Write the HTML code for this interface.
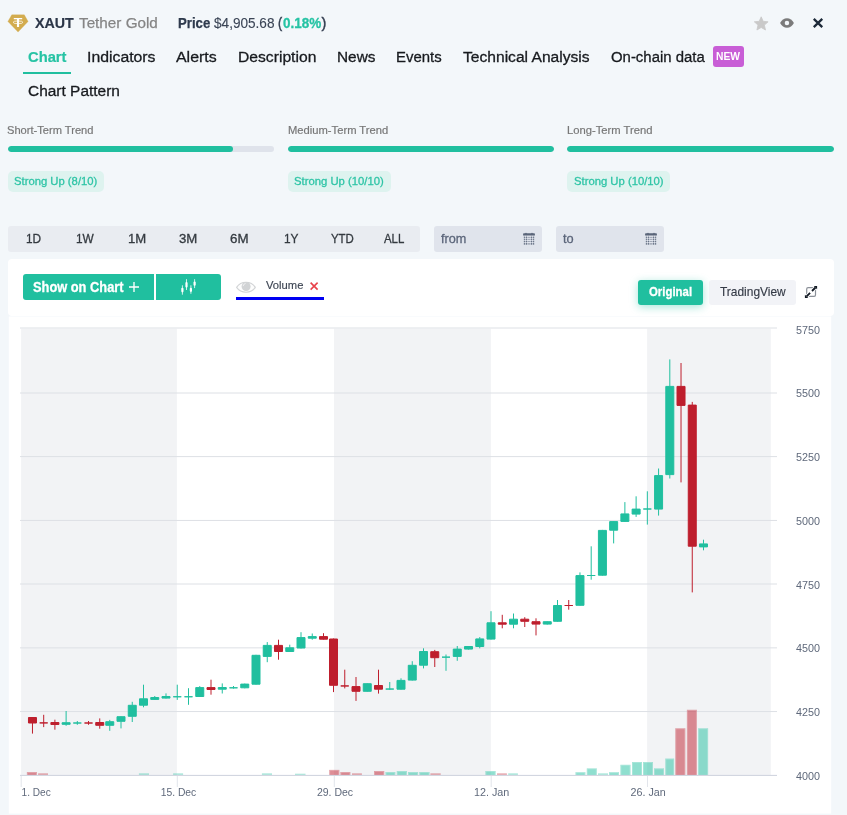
<!DOCTYPE html>
<html lang="en"><head><meta charset="utf-8"><title>XAUT Tether Gold</title>
<style>
*{box-sizing:border-box;margin:0;padding:0}
html,body{width:847px;height:815px;overflow:hidden}
body{position:relative;background:#f3f7fa;font-family:"Liberation Sans",sans-serif;color:#23272b}
.abs,.tx{position:absolute}
.tx{white-space:nowrap;transform-origin:0 0;display:block}
.card{position:absolute;background:#fff}
.bar{position:absolute;height:6px;border-radius:3px;background:#dfe3eb;overflow:hidden}
.bar i{display:block;height:6px;border-radius:3px;background:#20bf9f}
.badge{position:absolute;height:21px;border-radius:5px;background:#def3ef}
.rng{position:absolute;left:8px;top:226px;width:412px;height:26px;border-radius:3px;background:#e9ecf1}
.inp{position:absolute;top:226px;width:108px;height:26px;border-radius:3px;background:#e0e4ec}
.btn{position:absolute;background:#20bf9f}
.chart{position:absolute;left:0;top:0}
.al{font-family:"Liberation Sans",sans-serif;font-size:11px;fill:#5f697b}
svg{display:block;overflow:visible}
</style></head>
<body>
<!-- header -->
<header>
<svg class="abs" style="left:7px;top:14px" width="22" height="19" viewBox="7 14 22 19"><path d="M11.8 14.8H24.3L28.1 21.4L18.05 32.1L7.9 21.4Z" fill="#d3ac4f" stroke="#d3ac4f" stroke-width="0.3" stroke-linejoin="round"/><path d="M13.8 17.9H22.2V19.3H19.1V27H16.95V19.3H13.8Z" fill="#fff"/><ellipse cx="18" cy="22.3" rx="4.9" ry="1.35" fill="none" stroke="#fff" stroke-width="0.75"/></svg>
<span class="tx" style="left:35.12px;top:15px;font-size:15.5px;line-height:15.5px;font-weight:bold;color:#2b3648;transform:scaleX(0.9199);-webkit-text-stroke:0.2px #2b3648;">XAUT</span><span class="tx" style="left:78.78px;top:15px;font-size:15.5px;line-height:15.5px;font-weight:normal;color:#858585;transform:scaleX(0.9841);-webkit-text-stroke:0.25px #858585;">Tether Gold</span><span class="tx" style="left:178.24px;top:16px;font-size:14.5px;line-height:14.5px;font-weight:bold;color:#2e3a4d;transform:scaleX(0.9083);-webkit-text-stroke:0.25px #2e3a4d;">Price</span><span class="tx" style="left:214.35px;top:16px;font-size:14.5px;line-height:14.5px;font-weight:normal;color:#3b4556;transform:scaleX(0.9378);-webkit-text-stroke:0.12px #3b4556;">$4,905.68</span><span class="tx" style="left:277.9px;top:16px;font-size:14.5px;line-height:14.5px;font-weight:normal;color:#333e50;transform:scaleX(0.8567);-webkit-text-stroke:0.4px #333e50;">(</span><span class="tx" style="left:282.6px;top:16px;font-size:14.5px;line-height:14.5px;font-weight:bold;color:#26c3a4;transform:scaleX(0.9288);-webkit-text-stroke:0.3px #26c3a4;">0.18%</span><span class="tx" style="left:321.6px;top:16px;font-size:14.5px;line-height:14.5px;font-weight:normal;color:#333e50;transform:scaleX(1.0000);-webkit-text-stroke:0.4px #333e50;">)</span>
<svg class="abs" style="left:753px;top:16px" width="16" height="15" viewBox="0 0 16 15"><path d="M8.2 0.8L10.2 5.3L15.1 5.8L11.4 9.1L12.5 14L8.2 11.5L3.9 14L5 9.1L1.3 5.8L6.2 5.3Z" fill="#c9c9c9" stroke="#c9c9c9" stroke-width="0.8" stroke-linejoin="round"/></svg>
<svg class="abs" style="left:779px;top:17px" width="16" height="12" viewBox="0 0 16 12"><path d="M1.1 6.1C2.6 3 5.2 1.2 8 1.2S13.4 3 14.9 6.1C13.4 9.1 10.8 10.8 8 10.8S2.6 9.1 1.1 6.1Z" fill="#7b7b7b"/><circle cx="7.95" cy="6" r="2.25" fill="#f3f7fa"/></svg>
<svg class="abs" style="left:812px;top:17px" width="12" height="12" viewBox="0 0 12 12"><path d="M1.8 1.85L10.25 10.1M10.25 1.85L1.8 10.1" stroke="#1c2938" stroke-width="2.3" fill="none"/></svg>
</header>
<!-- tabs -->
<nav>
<span class="tx" style="left:27.75px;top:49px;font-size:15.5px;line-height:15.5px;font-weight:bold;color:#26c3a4;transform:scaleX(0.9517);-webkit-text-stroke:0.2px #26c3a4;">Chart</span><div class="abs" style="left:23px;top:72px;width:47.5px;height:2px;background:#20bf9f"></div>
<span class="tx" style="left:87.14px;top:49px;font-size:15.5px;line-height:15.5px;font-weight:normal;color:#171a1e;transform:scaleX(1.0195);-webkit-text-stroke:0.3px #171a1e;">Indicators</span><span class="tx" style="left:176.05px;top:49px;font-size:15.5px;line-height:15.5px;font-weight:normal;color:#171a1e;transform:scaleX(1.0275);-webkit-text-stroke:0.3px #171a1e;">Alerts</span><span class="tx" style="left:237.71px;top:49px;font-size:15.5px;line-height:15.5px;font-weight:normal;color:#171a1e;transform:scaleX(1.0105);-webkit-text-stroke:0.3px #171a1e;">Description</span><span class="tx" style="left:337.03px;top:49px;font-size:15.5px;line-height:15.5px;font-weight:normal;color:#171a1e;transform:scaleX(0.9920);-webkit-text-stroke:0.3px #171a1e;">News</span><span class="tx" style="left:396.1px;top:49px;font-size:15.5px;line-height:15.5px;font-weight:normal;color:#171a1e;transform:scaleX(0.9632);-webkit-text-stroke:0.3px #171a1e;">Events</span><span class="tx" style="left:463.31px;top:49px;font-size:15.5px;line-height:15.5px;font-weight:normal;color:#171a1e;transform:scaleX(1.0068);-webkit-text-stroke:0.3px #171a1e;">Technical Analysis</span><span class="tx" style="left:610.74px;top:49px;font-size:15.5px;line-height:15.5px;font-weight:normal;color:#171a1e;transform:scaleX(0.9627);-webkit-text-stroke:0.3px #171a1e;">On-chain data</span>
<div class="abs" style="left:713px;top:46px;width:31px;height:21px;border-radius:3px;background:#c85ed6"></div><span class="tx" style="left:715.95px;top:51px;font-size:11.4px;line-height:11.4px;font-weight:bold;color:#ffffff;transform:scaleX(0.9035);">NEW</span>
<span class="tx" style="left:27.96px;top:83px;font-size:15.5px;line-height:15.5px;font-weight:normal;color:#171a1e;transform:scaleX(0.9969);-webkit-text-stroke:0.3px #171a1e;">Chart Pattern</span>
</nav>
<!-- trends -->
<section>
<span class="tx" style="left:6.99px;top:125px;font-size:11.5px;line-height:11.5px;font-weight:normal;color:#777777;transform:scaleX(0.9664);-webkit-text-stroke:0.2px #777777;">Short-Term Trend</span><span class="tx" style="left:288.1px;top:125px;font-size:11.5px;line-height:11.5px;font-weight:normal;color:#777777;transform:scaleX(0.9740);-webkit-text-stroke:0.2px #777777;">Medium-Term Trend</span><span class="tx" style="left:567.23px;top:125px;font-size:11.5px;line-height:11.5px;font-weight:normal;color:#777777;transform:scaleX(0.9755);-webkit-text-stroke:0.2px #777777;">Long-Term Trend</span>
<div class="bar" style="left:8px;top:146px;width:266px"><i style="width:225px"></i></div>
<div class="bar" style="left:288px;top:146px;width:266px"><i style="width:266px"></i></div>
<div class="bar" style="left:567px;top:146px;width:267px"><i style="width:267px"></i></div>
<div class="badge" style="left:8px;top:171px;width:96px"></div><span class="tx" style="left:14.26px;top:176px;font-size:11.5px;line-height:11.5px;font-weight:normal;color:#2ec4a6;transform:scaleX(0.9799);-webkit-text-stroke:0.3px #2ec4a6;">Strong Up (8/10)</span>
<div class="badge" style="left:288px;top:171px;width:103px"></div><span class="tx" style="left:294.4px;top:176px;font-size:11.5px;line-height:11.5px;font-weight:normal;color:#2ec4a6;transform:scaleX(0.9814);-webkit-text-stroke:0.3px #2ec4a6;">Strong Up (10/10)</span>
<div class="badge" style="left:567px;top:171px;width:103px"></div><span class="tx" style="left:573.68px;top:176px;font-size:11.5px;line-height:11.5px;font-weight:normal;color:#2ec4a6;transform:scaleX(0.9804);-webkit-text-stroke:0.3px #2ec4a6;">Strong Up (10/10)</span>
</section>
<!-- range -->
<section>
<div class="rng"></div>
<span class="tx" style="left:25.61px;top:233px;font-size:12.3px;line-height:12.3px;font-weight:normal;color:#343a40;transform:scaleX(0.9625);-webkit-text-stroke:0.3px #343a40;">1D</span><span class="tx" style="left:76.24px;top:233px;font-size:12.3px;line-height:12.3px;font-weight:normal;color:#343a40;transform:scaleX(0.9651);-webkit-text-stroke:0.3px #343a40;">1W</span><span class="tx" style="left:128.04px;top:233px;font-size:12.3px;line-height:12.3px;font-weight:normal;color:#343a40;transform:scaleX(1.0676);-webkit-text-stroke:0.3px #343a40;">1M</span><span class="tx" style="left:178.76px;top:233px;font-size:12.3px;line-height:12.3px;font-weight:normal;color:#343a40;transform:scaleX(1.0745);-webkit-text-stroke:0.3px #343a40;">3M</span><span class="tx" style="left:230.49px;top:233px;font-size:12.3px;line-height:12.3px;font-weight:normal;color:#343a40;transform:scaleX(1.0862);-webkit-text-stroke:0.3px #343a40;">6M</span><span class="tx" style="left:283.82px;top:233px;font-size:12.3px;line-height:12.3px;font-weight:normal;color:#343a40;transform:scaleX(0.9663);-webkit-text-stroke:0.3px #343a40;">1Y</span><span class="tx" style="left:331.08px;top:233px;font-size:12.3px;line-height:12.3px;font-weight:normal;color:#343a40;transform:scaleX(0.9285);-webkit-text-stroke:0.3px #343a40;">YTD</span><span class="tx" style="left:383.91px;top:233px;font-size:12.3px;line-height:12.3px;font-weight:normal;color:#343a40;transform:scaleX(0.9266);-webkit-text-stroke:0.3px #343a40;">ALL</span>
<div class="inp" style="left:434px"></div><span class="tx" style="left:441.28px;top:232px;font-size:13.3px;line-height:13.3px;font-weight:normal;color:#5b657a;transform:scaleX(0.9518);-webkit-text-stroke:0.3px #5b657a;">from</span><svg class="abs" style="left:523px;top:232px" width="12" height="13" viewBox="0 -1 12 13"><path d="M0.1 2.5V1.1Q0.1 0.3 0.9 0.3H2.2Q2.4 -0.3 3 -0.3T3.8 0.3H8.2Q8.4 -0.3 9 -0.3T9.8 0.3H11.1Q11.9 0.3 11.9 1.1V2.5Z" fill="#5a6579"/><g fill="#5a6579" fill-opacity="0.3"><rect x="0.8" y="3.9" width="10.4" height="1"/><rect x="0.8" y="5.9" width="10.4" height="1"/><rect x="0.8" y="8" width="10.4" height="1"/><rect x="0.8" y="10.1" width="10.4" height="1.5"/><rect x="0.9" y="2.5" width="1" height="9"/><rect x="3" y="2.5" width="1" height="9"/><rect x="8" y="2.5" width="1" height="9"/><rect x="10.1" y="2.5" width="1" height="9"/></g><g fill="#5a6579" fill-opacity="0.75"><rect x="0.9" y="3.90" width="1" height="1"/><rect x="0.9" y="5.90" width="1" height="1"/><rect x="0.9" y="8.00" width="1" height="1"/><rect x="0.9" y="10.10" width="1" height="1.5"/><rect x="3.0" y="3.90" width="1" height="1"/><rect x="3.0" y="5.90" width="1" height="1"/><rect x="3.0" y="8.00" width="1" height="1"/><rect x="3.0" y="10.10" width="1" height="1.5"/><rect x="8.0" y="3.90" width="1" height="1"/><rect x="8.0" y="5.90" width="1" height="1"/><rect x="8.0" y="8.00" width="1" height="1"/><rect x="8.0" y="10.10" width="1" height="1.5"/><rect x="10.1" y="3.90" width="1" height="1"/><rect x="10.1" y="5.90" width="1" height="1"/><rect x="10.1" y="8.00" width="1" height="1"/><rect x="10.1" y="10.10" width="1" height="1.5"/><rect x="5.5" y="3.90" width="1" height="1" fill-opacity="0.45"/><rect x="5.5" y="5.90" width="1" height="1" fill-opacity="0.45"/><rect x="5.5" y="8.00" width="1" height="1" fill-opacity="0.45"/><rect x="5.5" y="10.10" width="1" height="1.5" fill-opacity="0.45"/></g></svg>
<div class="inp" style="left:556px"></div><span class="tx" style="left:563.44px;top:232px;font-size:13.3px;line-height:13.3px;font-weight:normal;color:#5b657a;transform:scaleX(0.9600);-webkit-text-stroke:0.3px #5b657a;">to</span><svg class="abs" style="left:645px;top:232px" width="12" height="13" viewBox="0 -1 12 13"><path d="M0.1 2.5V1.1Q0.1 0.3 0.9 0.3H2.2Q2.4 -0.3 3 -0.3T3.8 0.3H8.2Q8.4 -0.3 9 -0.3T9.8 0.3H11.1Q11.9 0.3 11.9 1.1V2.5Z" fill="#5a6579"/><g fill="#5a6579" fill-opacity="0.3"><rect x="0.8" y="3.9" width="10.4" height="1"/><rect x="0.8" y="5.9" width="10.4" height="1"/><rect x="0.8" y="8" width="10.4" height="1"/><rect x="0.8" y="10.1" width="10.4" height="1.5"/><rect x="0.9" y="2.5" width="1" height="9"/><rect x="3" y="2.5" width="1" height="9"/><rect x="8" y="2.5" width="1" height="9"/><rect x="10.1" y="2.5" width="1" height="9"/></g><g fill="#5a6579" fill-opacity="0.75"><rect x="0.9" y="3.90" width="1" height="1"/><rect x="0.9" y="5.90" width="1" height="1"/><rect x="0.9" y="8.00" width="1" height="1"/><rect x="0.9" y="10.10" width="1" height="1.5"/><rect x="3.0" y="3.90" width="1" height="1"/><rect x="3.0" y="5.90" width="1" height="1"/><rect x="3.0" y="8.00" width="1" height="1"/><rect x="3.0" y="10.10" width="1" height="1.5"/><rect x="8.0" y="3.90" width="1" height="1"/><rect x="8.0" y="5.90" width="1" height="1"/><rect x="8.0" y="8.00" width="1" height="1"/><rect x="8.0" y="10.10" width="1" height="1.5"/><rect x="10.1" y="3.90" width="1" height="1"/><rect x="10.1" y="5.90" width="1" height="1"/><rect x="10.1" y="8.00" width="1" height="1"/><rect x="10.1" y="10.10" width="1" height="1.5"/><rect x="5.5" y="3.90" width="1" height="1" fill-opacity="0.45"/><rect x="5.5" y="5.90" width="1" height="1" fill-opacity="0.45"/><rect x="5.5" y="8.00" width="1" height="1" fill-opacity="0.45"/><rect x="5.5" y="10.10" width="1" height="1.5" fill-opacity="0.45"/></g></svg>
</section>
<!-- toolbar -->
<section>
<div class="card" style="left:8px;top:259px;width:826px;height:57px;border-radius:4px"></div>
<div class="btn" style="left:23px;top:274px;width:131px;height:26px;border-radius:3px 0 0 3px"></div>
<span class="tx" style="left:32.79px;top:280px;font-size:14.5px;line-height:14.5px;font-weight:bold;color:#ffffff;transform:scaleX(0.8850);-webkit-text-stroke:0.3px #ffffff;">Show on Chart</span>
<svg class="abs" style="left:128px;top:281px" width="12" height="12" viewBox="0 0 12 12"><path d="M6 1V11M1 6H11" stroke="#fff" stroke-width="1.35" fill="none"/></svg>
<div class="btn" style="left:156px;top:274px;width:65px;height:26px;border-radius:0 3px 3px 0"></div>
<svg class="abs" style="left:180px;top:279px" width="17" height="16" viewBox="0 0 17 16"><g stroke="#fff" fill="none" stroke-width="0.8"><path d="M2.4 6.3V15.7M6.5 0.2V11M10.9 6.3V14.8M14.6 0.2V9.1"/></g><g fill="#fff"><rect x="1.3" y="8.7" width="2.2" height="4.7" rx="1.1"/><rect x="5.4" y="3" width="2.2" height="5.7" rx="1.1"/><rect x="9.8" y="8.7" width="2.2" height="4.2" rx="1.1"/><rect x="13.5" y="2.5" width="2.2" height="4.3" rx="1.1"/></g></svg>
<svg class="abs" style="left:235px;top:280px" width="22" height="14" viewBox="0 -0.5 22 14"><path d="M1.6 6.9C4 3.2 7.3 1.7 11 1.7S18 3.2 20.3 6.9C18 10.4 14.7 11.8 11 11.8S4 10.4 1.6 6.9Z" fill="#fdfdfd" stroke="#d2d4d6" stroke-width="1.1" stroke-linejoin="round"/><circle cx="11.1" cy="6" r="4.5" fill="#d1d3d5"/><path d="M8.1 5.6A3 3 0 0 1 10.6 3" stroke="#f4f4f5" stroke-width="0.9" fill="none"/></svg>
<span class="tx" style="left:266.4px;top:280px;font-size:11.4px;line-height:11.4px;font-weight:normal;color:#3d4553;transform:scaleX(0.9840);-webkit-text-stroke:0.15px #3d4553;">Volume</span>
<svg class="abs" style="left:309px;top:281px" width="10" height="10" viewBox="0 0 10 10"><path d="M1.6 1.6L8.6 8.6M8.6 1.6L1.6 8.6" stroke="#e8434b" stroke-width="1.6" fill="none"/></svg>
<div class="abs" style="left:236px;top:297px;width:88px;height:3px;background:#0000f2"></div>
<div class="btn" style="left:638px;top:280px;width:65px;height:25px;border-radius:3px;box-shadow:0 2px 8px rgba(32,191,159,0.4)"></div><span class="tx" style="left:649.18px;top:285px;font-size:13.4px;line-height:13.4px;font-weight:bold;color:#ffffff;transform:scaleX(0.8510);-webkit-text-stroke:0.3px #ffffff;">Original</span>
<div class="abs" style="left:709px;top:280px;width:87px;height:25px;border-radius:3px;background:#f2f3f7"></div><span class="tx" style="left:719.92px;top:285px;font-size:13.4px;line-height:13.4px;font-weight:normal;color:#343a46;transform:scaleX(0.8923);-webkit-text-stroke:0.15px #343a46;">TradingView</span>
<svg class="abs" style="left:804px;top:285px" width="14" height="14" viewBox="0 0 14 14"><rect x="2.7" y="2.7" width="8.8" height="8.6" rx="1.4" fill="none" stroke="#8b9098" stroke-width="1.2"/><path d="M1.5 12.5L12.5 1.5" stroke="#fff" stroke-width="3.6" fill="none"/><path d="M2.6 11.4L6.1 7.9M8 6L11.5 2.5" stroke="#111923" stroke-width="1.8" fill="none"/><path d="M13.1 0.9H9.8L13.1 4.3ZM0.9 13.1V9.7L4.3 13.1Z" fill="#111923"/></svg>
</section>
<!-- chart -->
<main>

<svg class="chart" width="847" height="815" viewBox="0 0 847 815">
<rect x="8.8" y="316.5" width="822.4" height="497.1" fill="#fff"/>
<rect x="21.1" y="328.7" width="155.8" height="446.3" fill="#f2f3f5"/>
<rect x="334.0" y="328.7" width="156.9" height="446.3" fill="#f2f3f5"/>
<rect x="647.1" y="328.7" width="123.7" height="446.3" fill="#f2f3f5"/>
<path d="M20 328.0H777" stroke="#dde0e5" stroke-width="1" fill="none"/>
<path d="M20 393.0H777" stroke="#dde0e5" stroke-width="1" fill="none"/>
<path d="M20 456.6H777" stroke="#dde0e5" stroke-width="1" fill="none"/>
<path d="M20 520.45H777" stroke="#dde0e5" stroke-width="1" fill="none"/>
<path d="M20 584.0H777" stroke="#dde0e5" stroke-width="1" fill="none"/>
<path d="M20 647.85H777" stroke="#dde0e5" stroke-width="1" fill="none"/>
<path d="M20 711.55H777" stroke="#dde0e5" stroke-width="1" fill="none"/>
<rect x="26.9" y="772" width="10" height="3" fill="#be1e2d" fill-opacity="0.5"/>
<path d="M27.4 775V772.5H36.4V775" fill="none" stroke="#fff" stroke-opacity="0.22" stroke-width="1"/>
<rect x="38.1" y="773.3" width="9.9" height="1.7" fill="#be1e2d" fill-opacity="0.36"/>
<rect x="138.9" y="773.3" width="10.1" height="1.7" fill="#20bf9f" fill-opacity="0.36"/>
<rect x="173.1" y="773.3" width="10" height="1.7" fill="#20bf9f" fill-opacity="0.36"/>
<rect x="261.9" y="773.3" width="10.1" height="1.7" fill="#20bf9f" fill-opacity="0.36"/>
<rect x="295" y="773.7" width="10.5" height="1.3" fill="#20bf9f" fill-opacity="0.36"/>
<rect x="329.2" y="769.9" width="10.1" height="5.1" fill="#be1e2d" fill-opacity="0.5"/>
<path d="M329.7 775V770.4H338.8V775" fill="none" stroke="#fff" stroke-opacity="0.22" stroke-width="1"/>
<rect x="340.4" y="772" width="9.9" height="3" fill="#be1e2d" fill-opacity="0.5"/>
<path d="M340.9 775V772.5H349.8V775" fill="none" stroke="#fff" stroke-opacity="0.22" stroke-width="1"/>
<rect x="352" y="773.3" width="9.9" height="1.7" fill="#be1e2d" fill-opacity="0.36"/>
<rect x="374" y="771" width="10.2" height="4" fill="#be1e2d" fill-opacity="0.5"/>
<path d="M374.5 775V771.5H383.7V775" fill="none" stroke="#fff" stroke-opacity="0.22" stroke-width="1"/>
<rect x="385.5" y="772" width="9.8" height="3" fill="#20bf9f" fill-opacity="0.5"/>
<path d="M386 775V772.5H394.8V775" fill="none" stroke="#fff" stroke-opacity="0.22" stroke-width="1"/>
<rect x="396.8" y="771" width="10.1" height="4" fill="#20bf9f" fill-opacity="0.5"/>
<path d="M397.3 775V771.5H406.4V775" fill="none" stroke="#fff" stroke-opacity="0.22" stroke-width="1"/>
<rect x="408" y="772" width="10.1" height="3" fill="#20bf9f" fill-opacity="0.5"/>
<path d="M408.5 775V772.5H417.6V775" fill="none" stroke="#fff" stroke-opacity="0.22" stroke-width="1"/>
<rect x="419.3" y="772" width="10.2" height="3" fill="#20bf9f" fill-opacity="0.5"/>
<path d="M419.8 775V772.5H429V775" fill="none" stroke="#fff" stroke-opacity="0.22" stroke-width="1"/>
<rect x="430.4" y="773.3" width="10.3" height="1.7" fill="#be1e2d" fill-opacity="0.36"/>
<rect x="485.4" y="771" width="10.2" height="4" fill="#20bf9f" fill-opacity="0.5"/>
<path d="M485.9 775V771.5H495.1V775" fill="none" stroke="#fff" stroke-opacity="0.22" stroke-width="1"/>
<rect x="497" y="773.3" width="9.9" height="1.7" fill="#be1e2d" fill-opacity="0.36"/>
<rect x="508.2" y="773.3" width="9.7" height="1.7" fill="#20bf9f" fill-opacity="0.36"/>
<rect x="575.5" y="772.2" width="9.9" height="2.8" fill="#20bf9f" fill-opacity="0.5"/>
<path d="M576 775V772.7H584.9V775" fill="none" stroke="#fff" stroke-opacity="0.22" stroke-width="1"/>
<rect x="586.8" y="768.4" width="10" height="6.6" fill="#20bf9f" fill-opacity="0.5"/>
<path d="M587.3 775V768.9H596.3V775" fill="none" stroke="#fff" stroke-opacity="0.22" stroke-width="1"/>
<rect x="598" y="773.3" width="10" height="1.7" fill="#20bf9f" fill-opacity="0.36"/>
<rect x="609" y="772.2" width="10" height="2.8" fill="#20bf9f" fill-opacity="0.5"/>
<path d="M609.5 775V772.7H618.5V775" fill="none" stroke="#fff" stroke-opacity="0.22" stroke-width="1"/>
<rect x="620.4" y="764.8" width="10.1" height="10.2" fill="#20bf9f" fill-opacity="0.5"/>
<path d="M620.9 775V765.3H630V775" fill="none" stroke="#fff" stroke-opacity="0.22" stroke-width="1"/>
<rect x="632" y="762" width="10" height="13" fill="#20bf9f" fill-opacity="0.5"/>
<path d="M632.5 775V762.5H641.5V775" fill="none" stroke="#fff" stroke-opacity="0.22" stroke-width="1"/>
<rect x="643" y="762" width="10" height="13" fill="#20bf9f" fill-opacity="0.5"/>
<path d="M643.5 775V762.5H652.5V775" fill="none" stroke="#fff" stroke-opacity="0.22" stroke-width="1"/>
<rect x="654" y="768.4" width="10" height="6.6" fill="#20bf9f" fill-opacity="0.5"/>
<path d="M654.5 775V768.9H663.5V775" fill="none" stroke="#fff" stroke-opacity="0.22" stroke-width="1"/>
<rect x="665.3" y="758.6" width="8.8" height="16.4" fill="#20bf9f" fill-opacity="0.5"/>
<path d="M665.8 775V759.1H673.6V775" fill="none" stroke="#fff" stroke-opacity="0.22" stroke-width="1"/>
<rect x="675.3" y="728.3" width="10" height="46.7" fill="#be1e2d" fill-opacity="0.5"/>
<path d="M675.8 775V728.8H684.8V775" fill="none" stroke="#fff" stroke-opacity="0.22" stroke-width="1"/>
<rect x="686.9" y="709.8" width="10" height="65.2" fill="#be1e2d" fill-opacity="0.5"/>
<path d="M687.4 775V710.3H696.4V775" fill="none" stroke="#fff" stroke-opacity="0.22" stroke-width="1"/>
<rect x="698.1" y="728.3" width="10" height="46.7" fill="#20bf9f" fill-opacity="0.5"/>
<path d="M698.6 775V728.8H707.6V775" fill="none" stroke="#fff" stroke-opacity="0.22" stroke-width="1"/>
<path d="M20 775.4H777" stroke="#cdd2dd" stroke-width="1" fill="none"/>
<path d="M21.2 775.9V787" stroke="#e2e5eb" stroke-width="1" fill="none"/>
<path d="M177.3 775.9V787" stroke="#e2e5eb" stroke-width="1" fill="none"/>
<path d="M334.3 775.9V787" stroke="#e2e5eb" stroke-width="1" fill="none"/>
<path d="M491.2 775.9V787" stroke="#e2e5eb" stroke-width="1" fill="none"/>
<path d="M647.5 775.9V787" stroke="#e2e5eb" stroke-width="1" fill="none"/>
<path d="M28.48 723L28.48 717.5L36.48 717.5L36.48 723ZM32.48 717.5L32.48 717M32.48 723L32.48 733.6" fill="#be1e2d" stroke="#be1e2d" stroke-width="1"/>
<path d="M39.69 722.9L39.69 722.9L47.69 722.9L47.69 722.9ZM43.69 722.9L43.69 714.8M43.69 722.9L43.69 727.1" fill="#be1e2d" stroke="#be1e2d" stroke-width="1"/>
<path d="M50.9 724.5L50.9 722.5L58.9 722.5L58.9 724.5ZM54.9 722.5L54.9 719.7M54.9 724.5L54.9 729.7" fill="#be1e2d" stroke="#be1e2d" stroke-width="1"/>
<path d="M62.11 724.3L62.11 722.7L70.11 722.7L70.11 724.3ZM66.11 722.7L66.11 711M66.11 724.3L66.11 725.8" fill="#20bf9f" stroke="#20bf9f" stroke-width="1"/>
<path d="M73.32 723L73.32 723L81.32 723L81.32 723ZM77.32 723L77.32 721M77.32 723L77.32 724.8" fill="#20bf9f" stroke="#20bf9f" stroke-width="1"/>
<path d="M84.53 723L84.53 723L92.53 723L92.53 723ZM88.53 723L88.53 721M88.53 723L88.53 724.8" fill="#be1e2d" stroke="#be1e2d" stroke-width="1"/>
<path d="M95.74 725.3L95.74 722.5L103.74 722.5L103.74 725.3ZM99.74 722.5L99.74 718.4M99.74 725.3L99.74 728.7" fill="#be1e2d" stroke="#be1e2d" stroke-width="1"/>
<path d="M105.76 725.3L105.76 721.7L113.76 721.7L113.76 725.3ZM109.76 721.7L109.76 719.9M109.76 725.3L109.76 730.8" fill="#20bf9f" stroke="#20bf9f" stroke-width="1"/>
<path d="M117.01 721.3L117.01 716.7L125.01 716.7L125.01 721.3ZM121.01 716.7L121.01 716.2M121.01 721.3L121.01 728.4" fill="#20bf9f" stroke="#20bf9f" stroke-width="1"/>
<path d="M128.26 716.3L128.26 705.3L136.26 705.3L136.26 716.3ZM132.26 705.3L132.26 701.8M132.26 716.3L132.26 722" fill="#20bf9f" stroke="#20bf9f" stroke-width="1"/>
<path d="M139.51 705.2L139.51 698.8L147.51 698.8L147.51 705.2ZM143.51 698.8L143.51 684.7M143.51 705.2L143.51 707.3" fill="#20bf9f" stroke="#20bf9f" stroke-width="1"/>
<path d="M150.76 699.4L150.76 697.5L158.76 697.5L158.76 699.4ZM154.76 697.5L154.76 696M154.76 699.4L154.76 699.9" fill="#20bf9f" stroke="#20bf9f" stroke-width="1"/>
<path d="M162.01 698.1L162.01 696.5L170.01 696.5L170.01 698.1ZM166.01 696.5L166.01 693.4M166.01 698.1L166.01 698.6" fill="#20bf9f" stroke="#20bf9f" stroke-width="1"/>
<path d="M173.26 696.75L173.26 696.75L181.26 696.75L181.26 696.75ZM177.26 696.75L177.26 684.7M177.26 696.75L177.26 699.9" fill="#20bf9f" stroke="#20bf9f" stroke-width="1"/>
<path d="M184.51 696.75L184.51 696.75L192.51 696.75L192.51 696.75ZM188.51 696.75L188.51 688.2M188.51 696.75L188.51 704.8" fill="#20bf9f" stroke="#20bf9f" stroke-width="1"/>
<path d="M195.76 696.5L195.76 687.6L203.76 687.6L203.76 696.5ZM199.76 687.6L199.76 686.1M199.76 696.5L199.76 697" fill="#20bf9f" stroke="#20bf9f" stroke-width="1"/>
<path d="M207.01 689.5L207.01 687.6L215.01 687.6L215.01 689.5ZM211.01 687.6L211.01 679.7M211.01 689.5L211.01 694.7" fill="#be1e2d" stroke="#be1e2d" stroke-width="1"/>
<path d="M218.26 689.2L218.26 687.5L226.26 687.5L226.26 689.2ZM222.26 687.5L222.26 683.4M222.26 689.2L222.26 693.5" fill="#20bf9f" stroke="#20bf9f" stroke-width="1"/>
<path d="M229.51 687.8L229.51 687.8L237.51 687.8L237.51 687.8ZM233.51 687.8L233.51 686M233.51 687.8L233.51 688.6" fill="#20bf9f" stroke="#20bf9f" stroke-width="1"/>
<path d="M240.76 687.8L240.76 684.1L248.76 684.1L248.76 687.8ZM244.76 684.1L244.76 683.6M244.76 687.8L244.76 688.3" fill="#20bf9f" stroke="#20bf9f" stroke-width="1"/>
<path d="M252.01 684.2L252.01 655.3L260.01 655.3L260.01 684.2ZM256.01 655.3L256.01 654.8M256.01 684.2L256.01 684.7" fill="#20bf9f" stroke="#20bf9f" stroke-width="1"/>
<path d="M263.26 656.4L263.26 645.4L271.26 645.4L271.26 656.4ZM267.26 645.4L267.26 642.1M267.26 656.4L267.26 662.2" fill="#20bf9f" stroke="#20bf9f" stroke-width="1"/>
<path d="M274.51 651.5L274.51 645.4L282.51 645.4L282.51 651.5ZM278.51 645.4L278.51 639.7M278.51 651.5L278.51 659.7" fill="#be1e2d" stroke="#be1e2d" stroke-width="1"/>
<path d="M285.76 651.5L285.76 647.8L293.76 647.8L293.76 651.5ZM289.76 647.8L289.76 644.7M289.76 651.5L289.76 652" fill="#20bf9f" stroke="#20bf9f" stroke-width="1"/>
<path d="M297.01 648L297.01 637.6L305.01 637.6L305.01 648ZM301.01 637.6L301.01 632.2M301.01 648L301.01 648.5" fill="#20bf9f" stroke="#20bf9f" stroke-width="1"/>
<path d="M308.26 638.2L308.26 636.6L316.26 636.6L316.26 638.2ZM312.26 636.6L312.26 633.5M312.26 638.2L312.26 639.7" fill="#20bf9f" stroke="#20bf9f" stroke-width="1"/>
<path d="M319.51 639.2L319.51 636.6L327.51 636.6L327.51 639.2ZM323.51 636.6L323.51 633.2M323.51 639.2L323.51 639.7" fill="#be1e2d" stroke="#be1e2d" stroke-width="1"/>
<path d="M329.5 685.3L329.5 639L337.5 639L337.5 685.3ZM333.5 639L333.5 638.5M333.5 685.3L333.5 692.1" fill="#be1e2d" stroke="#be1e2d" stroke-width="1"/>
<path d="M340.75 685.95L340.75 685.95L348.75 685.95L348.75 685.95ZM344.75 685.95L344.75 669.7M344.75 685.95L344.75 688.4" fill="#be1e2d" stroke="#be1e2d" stroke-width="1"/>
<path d="M352 691.3L352 686.6L360 686.6L360 691.3ZM356 686.6L356 677M356 691.3L356 700.9" fill="#be1e2d" stroke="#be1e2d" stroke-width="1"/>
<path d="M363.25 691.3L363.25 683.7L371.25 683.7L371.25 691.3ZM367.25 683.7L367.25 683.2M367.25 691.3L367.25 691.8" fill="#20bf9f" stroke="#20bf9f" stroke-width="1"/>
<path d="M374.5 689.2L374.5 685.5L382.5 685.5L382.5 689.2ZM378.5 685.5L378.5 669.7M378.5 689.2L378.5 693.6" fill="#be1e2d" stroke="#be1e2d" stroke-width="1"/>
<path d="M385.75 689.05L385.75 689.05L393.75 689.05L393.75 689.05ZM389.75 689.05L389.75 682M389.75 689.05L389.75 689.7" fill="#20bf9f" stroke="#20bf9f" stroke-width="1"/>
<path d="M397 689.2L397 680.4L405 680.4L405 689.2ZM401 680.4L401 678.3M401 689.2L401 689.7" fill="#20bf9f" stroke="#20bf9f" stroke-width="1"/>
<path d="M408.25 680.1L408.25 665.3L416.25 665.3L416.25 680.1ZM412.25 665.3L412.25 661.2M412.25 680.1L412.25 680.6" fill="#20bf9f" stroke="#20bf9f" stroke-width="1"/>
<path d="M419.5 665.2L419.5 651.5L427.5 651.5L427.5 665.2ZM423.5 651.5L423.5 648.3M423.5 665.2L423.5 668.4" fill="#20bf9f" stroke="#20bf9f" stroke-width="1"/>
<path d="M430.75 657.7L430.75 651.7L438.75 651.7L438.75 657.7ZM434.75 651.7L434.75 649.9M434.75 657.7L434.75 667" fill="#be1e2d" stroke="#be1e2d" stroke-width="1"/>
<path d="M442 657.15L442 657.15L450 657.15L450 657.15ZM446 657.15L446 654.5M446 657.15L446 670.8" fill="#20bf9f" stroke="#20bf9f" stroke-width="1"/>
<path d="M453.25 656.4L453.25 649.1L461.25 649.1L461.25 656.4ZM457.25 649.1L457.25 646M457.25 656.4L457.25 660.8" fill="#20bf9f" stroke="#20bf9f" stroke-width="1"/>
<path d="M464.5 649.1L464.5 646.5L472.5 646.5L472.5 649.1ZM468.5 646.5L468.5 646M468.5 649.1L468.5 649.6" fill="#20bf9f" stroke="#20bf9f" stroke-width="1"/>
<path d="M475.75 646.5L475.75 638.9L483.75 638.9L483.75 646.5ZM479.75 638.9L479.75 637.1M479.75 646.5L479.75 648.3" fill="#20bf9f" stroke="#20bf9f" stroke-width="1"/>
<path d="M487 639.1L487 622.8L495 622.8L495 639.1ZM491 622.8L491 611.2M491 639.1L491 639.6" fill="#20bf9f" stroke="#20bf9f" stroke-width="1"/>
<path d="M498.25 624.2L498.25 622.8L506.25 622.8L506.25 624.2ZM502.25 622.8L502.25 614.8M502.25 624.2L502.25 628.3" fill="#be1e2d" stroke="#be1e2d" stroke-width="1"/>
<path d="M509.5 624.2L509.5 619.2L517.5 619.2L517.5 624.2ZM513.5 619.2L513.5 613.5M513.5 624.2L513.5 628.3" fill="#20bf9f" stroke="#20bf9f" stroke-width="1"/>
<path d="M520.75 621.3L520.75 619.2L528.75 619.2L528.75 621.3ZM524.75 619.2L524.75 617.2M524.75 621.3L524.75 627" fill="#be1e2d" stroke="#be1e2d" stroke-width="1"/>
<path d="M532 624.1L532 621.7L540 621.7L540 624.1ZM536 621.7L536 618.3M536 624.1L536 635.4" fill="#be1e2d" stroke="#be1e2d" stroke-width="1"/>
<path d="M543.25 624.1L543.25 621.7L551.25 621.7L551.25 624.1ZM547.25 621.7L547.25 621.2M547.25 624.1L547.25 624.6" fill="#20bf9f" stroke="#20bf9f" stroke-width="1"/>
<path d="M553.5 621.3L553.5 605.5L561.5 605.5L561.5 621.3ZM557.5 605.5L557.5 600M557.5 621.3L557.5 621.8" fill="#20bf9f" stroke="#20bf9f" stroke-width="1"/>
<path d="M564.73 605.5L564.73 605.5L572.73 605.5L572.73 605.5ZM568.73 605.5L568.73 600M568.73 605.5L568.73 609.7" fill="#be1e2d" stroke="#be1e2d" stroke-width="1"/>
<path d="M575.96 605.3L575.96 575.6L583.96 575.6L583.96 605.3ZM579.96 575.6L579.96 572.4M579.96 605.3L579.96 605.8" fill="#20bf9f" stroke="#20bf9f" stroke-width="1"/>
<path d="M587.19 575.5L587.19 575.5L595.19 575.5L595.19 575.5ZM591.19 575.5L591.19 546.3M591.19 575.5L591.19 579.7" fill="#20bf9f" stroke="#20bf9f" stroke-width="1"/>
<path d="M598.42 575.2L598.42 530.4L606.42 530.4L606.42 575.2ZM602.42 530.4L602.42 529.9M602.42 575.2L602.42 575.7" fill="#20bf9f" stroke="#20bf9f" stroke-width="1"/>
<path d="M609.65 530.2L609.65 521.6L617.65 521.6L617.65 530.2ZM613.65 521.6L613.65 521.1M613.65 530.2L613.65 543.4" fill="#20bf9f" stroke="#20bf9f" stroke-width="1"/>
<path d="M620.88 521.4L620.88 513.9L628.88 513.9L628.88 521.4ZM624.88 513.9L624.88 502.1M624.88 521.4L624.88 521.9" fill="#20bf9f" stroke="#20bf9f" stroke-width="1"/>
<path d="M632.11 514.1L632.11 509.1L640.11 509.1L640.11 514.1ZM636.11 509.1L636.11 496.3M636.11 514.1L636.11 516.9" fill="#20bf9f" stroke="#20bf9f" stroke-width="1"/>
<path d="M643.34 509L643.34 509L651.34 509L651.34 509ZM647.34 509L647.34 491.3M647.34 509L647.34 524.6" fill="#20bf9f" stroke="#20bf9f" stroke-width="1"/>
<path d="M654.57 509.1L654.57 475.6L662.57 475.6L662.57 509.1ZM658.57 475.6L658.57 468.5M658.57 509.1L658.57 515.6" fill="#20bf9f" stroke="#20bf9f" stroke-width="1"/>
<path d="M665.8 474.6L665.8 386.4L673.8 386.4L673.8 474.6ZM669.8 386.4L669.8 359.4M669.8 474.6L669.8 478.5" fill="#20bf9f" stroke="#20bf9f" stroke-width="1"/>
<path d="M677.03 405.4L677.03 386.4L685.03 386.4L685.03 405.4ZM681.03 386.4L681.03 363M681.03 405.4L681.03 482.4" fill="#be1e2d" stroke="#be1e2d" stroke-width="1"/>
<path d="M688.26 546.2L688.26 405.1L696.26 405.1L696.26 546.2ZM692.26 405.1L692.26 401.9M692.26 546.2L692.26 592.4" fill="#be1e2d" stroke="#be1e2d" stroke-width="1"/>
<path d="M699.49 546.9L699.49 543.9L707.49 543.9L707.49 546.9ZM703.49 543.9L703.49 539.7M703.49 546.9L703.49 550.3" fill="#20bf9f" stroke="#20bf9f" stroke-width="1"/>
<text x="796" y="334.2" class="al" textLength="24" lengthAdjust="spacingAndGlyphs">5750</text>
<text x="796" y="397.2" class="al" textLength="24" lengthAdjust="spacingAndGlyphs">5500</text>
<text x="796" y="461.25" class="al" textLength="24" lengthAdjust="spacingAndGlyphs">5250</text>
<text x="796" y="524.98" class="al" textLength="24" lengthAdjust="spacingAndGlyphs">5000</text>
<text x="796" y="588.71" class="al" textLength="24" lengthAdjust="spacingAndGlyphs">4750</text>
<text x="796" y="652.44" class="al" textLength="24" lengthAdjust="spacingAndGlyphs">4500</text>
<text x="796" y="716.17" class="al" textLength="24" lengthAdjust="spacingAndGlyphs">4250</text>
<text x="796" y="779.9" class="al" textLength="24" lengthAdjust="spacingAndGlyphs">4000</text>
<text x="21.6" y="795.8" class="al" text-anchor="start" textLength="29.2" lengthAdjust="spacingAndGlyphs">1. Dec</text>
<text x="178.5" y="795.8" class="al" text-anchor="middle" textLength="35.6" lengthAdjust="spacingAndGlyphs">15. Dec</text>
<text x="335" y="795.8" class="al" text-anchor="middle" textLength="36.2" lengthAdjust="spacingAndGlyphs">29. Dec</text>
<text x="491.7" y="795.8" class="al" text-anchor="middle" textLength="35.3" lengthAdjust="spacingAndGlyphs">12. Jan</text>
<text x="648.2" y="795.8" class="al" text-anchor="middle" textLength="35.2" lengthAdjust="spacingAndGlyphs">26. Jan</text>
</svg>
</main>
</body></html>
